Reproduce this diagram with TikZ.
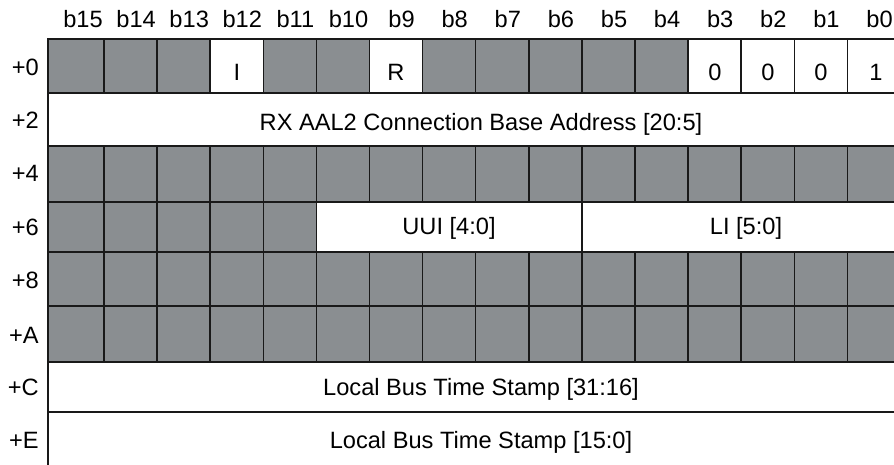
\documentclass[tikz,border=0pt]{standalone}
\usepackage{fontspec}
\setmainfont{Liberation Sans}
\definecolor{cellgrey}{RGB}{138,142,145}
\definecolor{gridline}{RGB}{25,25,25}

\begin{document}
\begin{tikzpicture}[x=0.025cm,y=-0.025cm,line cap=rect,
    grid/.style={draw=gridline,line width=1.1pt},
    lbl/.style={inner sep=0pt,anchor=base,font=\fontsize{16.8}{20}\selectfont},
    rowlbl/.style={lbl,anchor=base east}]
    \useasboundingbox (0,0) rectangle (894,465);
    \clip (0,0) rectangle (894,465);

    % Celdas reservadas (gris)
    \fill[cellgrey] (48,39) rectangle (210.2,93);
    \fill[cellgrey] (263.3,39) rectangle (369.5,93);
    \fill[cellgrey] (422.6,39) rectangle (688.1,93);
    \fill[cellgrey] (48,146) rectangle (912,202);
    \fill[cellgrey] (48,202) rectangle (316.4,252);
    \fill[cellgrey] (48,252) rectangle (912,362);

    % Separadores de bits (borde izquierdo = 50.9 + 53.1*i)
    \foreach \i in {1,...,15} {
        \pgfmathsetmacro{\xl}{50.9+53.1*\i}
        \draw[grid] (\xl,39) -- (\xl,93);
        \draw[grid] (\xl,146) -- (\xl,202);
        \draw[grid] (\xl,252) -- (\xl,362);
    }
    \foreach \i in {1,2,3,4,5,10} {
        \pgfmathsetmacro{\xl}{50.9+53.1*\i}
        \draw[grid] (\xl,202) -- (\xl,252);
    }

    % Bordes de palabra
    \foreach \y in {39,93,146,202,252,306,362,412} {
        \draw[grid] (48,\y) -- (912,\y);
    }
    \draw[grid] (48,39) -- (48,470);

    % Cabecera de bits
    \foreach \b in {15,...,0} {
        \pgfmathsetmacro{\xc}{83+53.1*(15-\b)}
        \node[lbl] (h\b) at (\xc,28) {b\b};
    }

    % Desplazamientos
    \foreach \r/\yb in {0/76,2/128.5,4/181.5,6/235.5,8/288.5,A/343.5,C/395.5,E/448.5} {
        \node[rowlbl] (r\r) at (39,\yb) {+\r};
    }

    % Campos
    \node[lbl] (fI) at (237,80.5) {I};
    \node[lbl] (fR) at (396,80.5) {R};
    \node[lbl] (f3) at (715,80.5) {0};
    \node[lbl] (f2) at (768,80.5) {0};
    \node[lbl] (f1) at (821,80.5) {0};
    \node[lbl] (f0) at (876,80.5) {1};
    \node[lbl] (base) at (481,131) {RX AAL2 Connection Base Address [20:5]};
    \node[lbl] (uui) at (449,234.5) {UUI [4:0]};
    \node[lbl] (li) at (746,234.5) {LI [5:0]};
    \node[lbl] (tshi) at (481,395.5) {Local Bus Time Stamp [31:16]};
    \node[lbl] (tslo) at (481,448.5) {Local Bus Time Stamp [15:0]};
\end{tikzpicture}
\end{document}
